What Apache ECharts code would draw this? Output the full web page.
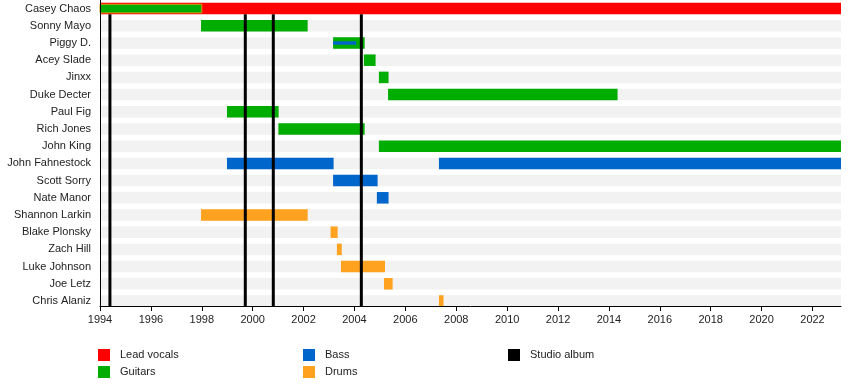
<!DOCTYPE html>
<html>
<head>
<meta charset="utf-8">
<script src="https://cdn.jsdelivr.net/npm/echarts@6/dist/echarts.min.js"></script>
<style>html,body{margin:0;padding:0;background:#fff}#c{width:850px;height:386px}</style>
</head>
<body>
<div id="c"></div>
<script>
// ---- data ----
const members = ['Casey Chaos','Sonny Mayo','Piggy D.','Acey Slade','Jinxx','Duke Decter','Paul Fig','Rich Jones','John King','John Fahnestock','Scott Sorry','Nate Manor','Shannon Larkin','Blake Plonsky','Zach Hill','Luke Johnson','Joe Letz','Chris Alaniz'];
const xStart = 1994;
const xEnd = 2023.12;
const tickYears = [1994,1996,1998,2000,2002,2004,2006,2008,2010,2012,2014,2016,2018,2020,2022];
const leadVocals = [['Casey Chaos', 1994, 2023.12]];
const guitars = [
  ['Sonny Mayo', 1997.97, 2002.16],
  ['Piggy D.', 2003.16, 2004.40],
  ['Acey Slade', 2004.37, 2004.83],
  ['Jinxx', 2004.96, 2005.34],
  ['Duke Decter', 2005.32, 2014.34],
  ['Paul Fig', 1998.99, 2001.02],
  ['Rich Jones', 2001.01, 2004.40],
  ['John King', 2004.96, 2023.12]
];
const guitarsSecondary = [['Casey Chaos', 1994, 1998.0]];
const bass = [
  ['John Fahnestock', 1998.99, 2003.18],
  ['John Fahnestock', 2007.32, 2023.12],
  ['Scott Sorry', 2003.16, 2004.91],
  ['Nate Manor', 2004.88, 2005.34]
];
const bassSecondary = [['Piggy D.', 2003.16, 2004.07]];
const drums = [
  ['Shannon Larkin', 1997.97, 2002.16],
  ['Blake Plonsky', 2003.06, 2003.34],
  ['Zach Hill', 2003.31, 2003.50],
  ['Luke Johnson', 2003.47, 2005.20],
  ['Joe Letz', 2005.16, 2005.50],
  ['Chris Alaniz', 2007.32, 2007.50]
];
const studioAlbums = [1994.39, 1999.71, 2000.81, 2004.27];

// ---- styles ----
const COLORS = {lead:'#ff0000', guitars:'#00ad00', bass:'#0066cc', drums:'#ffa21f', album:'#000000', bg:'#f2f2f2'};
const BAR_RATIO = 0.67;
const FONT = 'Liberation Sans, Arial, sans-serif';

function barRenderer(ratio, color, border) {
  return function (params, api) {
    const cat = api.value(0);
    const s = api.coord([api.value(1), cat]);
    const e = api.coord([api.value(2), cat]);
    const h = api.size([0, 1])[1] * ratio;
    const style = {fill: color};
    if (border) { style.stroke = border; style.lineWidth = 1; }
    return {type:'rect', shape:{x:s[0], y:s[1]-h/2, width:e[0]-s[0], height:h}, style: style};
  };
}
function barSeries(name, data, ratio, color, z, border) {
  return {
    type:'custom', name:name, data:data, z:z,
    encode:{x:[1,2], y:0},
    itemStyle:{color:color},
    renderItem: barRenderer(ratio, color, border),
    silent:true, animation:false
  };
}

const bgData = members.map(m => [m, xStart, xEnd]);
const legendText = {fontSize:11, fontFamily:FONT, color:'#222', padding:[0,0,0,5]};

const option = {
  animation:false,
  grid:{left:100, right:9, top:-1.8, bottom:76.4, containLabel:false},
  xAxis:{
    type:'value', min:xStart, max:xEnd, interval:2, offset:-3.6, z:10,
    axisLine:{show:true, lineStyle:{color:'#000', width:1}},
    axisTick:{show:true, length:5, lineStyle:{color:'#000'}, customValues:tickYears},
    axisLabel:{color:'#222', fontSize:11, fontFamily:FONT, margin:8, customValues:tickYears, formatter:v=>String(Math.round(v))},
    splitLine:{show:false}
  },
  yAxis:{
    type:'category', data:members, inverse:true, z:10,
    axisLine:{show:true, lineStyle:{color:'#000', width:1}},
    axisTick:{show:false},
    axisLabel:{color:'#222', fontSize:11, fontFamily:FONT, margin:9},
    splitLine:{show:false}
  },
  legend:[
    {orient:'vertical', left:93, top:344, itemWidth:12, itemHeight:12, itemGap:5, icon:'rect',
     textStyle:legendText, data:['Lead vocals','Guitars'], selectedMode:false},
    {orient:'vertical', left:298, top:344, itemWidth:12, itemHeight:12, itemGap:5, icon:'rect',
     textStyle:legendText, data:['Bass','Drums'], selectedMode:false},
    {orient:'vertical', left:503, top:344, itemWidth:12, itemHeight:12, itemGap:5, icon:'rect',
     textStyle:legendText, data:['Studio album'], selectedMode:false}
  ],
  series:[
    barSeries('background', bgData, BAR_RATIO, COLORS.bg, 1),
    barSeries('Lead vocals', leadVocals, BAR_RATIO, COLORS.lead, 3),
    barSeries('Guitars', guitars, BAR_RATIO, COLORS.guitars, 3),
    barSeries('Guitars', guitarsSecondary, 0.5, COLORS.guitars, 4, '#d89a10'),
    barSeries('Bass', bass, BAR_RATIO, COLORS.bass, 3),
    barSeries('Bass', bassSecondary, 0.2, COLORS.bass, 4),
    barSeries('Drums', drums, BAR_RATIO, COLORS.drums, 3),
    {
      type:'custom', name:'Studio album', z:5, silent:true, animation:false,
      data: studioAlbums.map(v => [v]),
      encode:{x:0},
      itemStyle:{color:COLORS.album},
      renderItem:function(params, api){
        const h = api.size([0,1])[1] * BAR_RATIO;
        const top = api.coord([api.value(0), members[0]]);
        const bot = api.coord([api.value(0), members[members.length-1]]);
        return {type:'line', shape:{x1:top[0], y1:top[1]+h/2, x2:bot[0], y2:bot[1]+h/2},
                style:{stroke:COLORS.album, lineWidth:3}};
      }
    }
  ]
};
const chart = echarts.init(document.getElementById('c'), null, {renderer:'canvas'});
chart.setOption(option);
</script>
</body>
</html>
